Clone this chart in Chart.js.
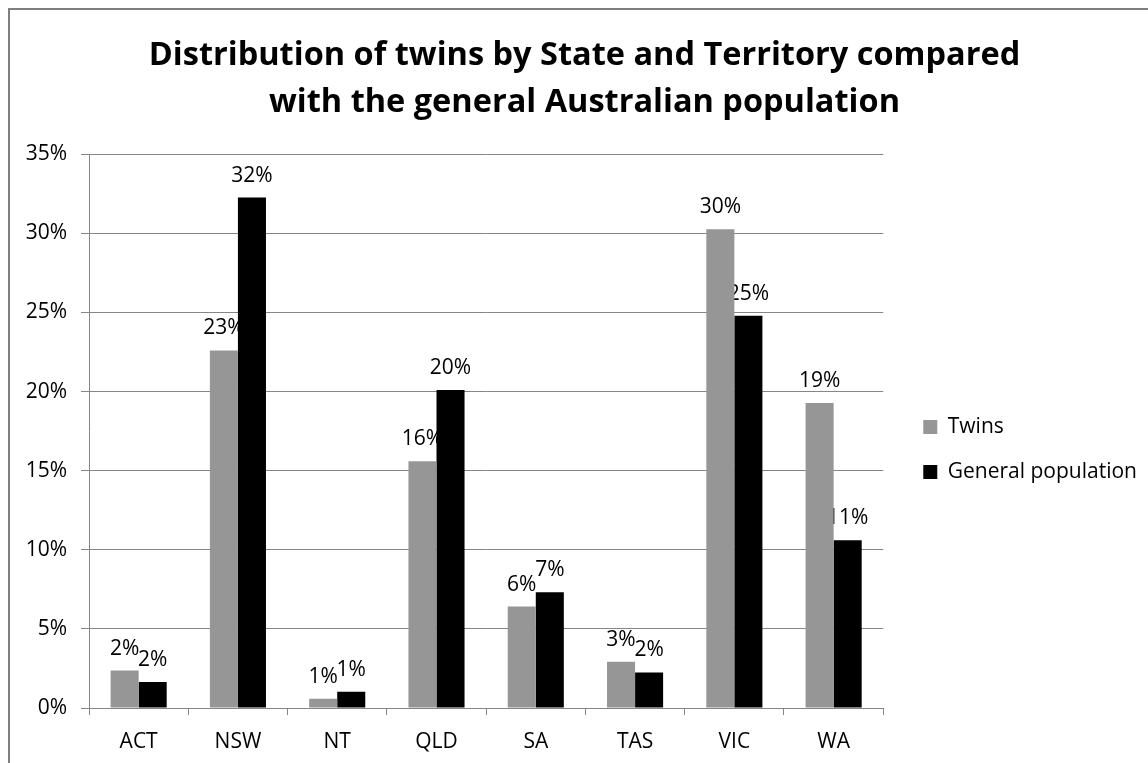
<!DOCTYPE html>
<html>
<head>
<meta charset="utf-8">
<script src="https://cdn.jsdelivr.net/npm/chart.js@4/dist/chart.umd.min.js"></script>
<style>
  html, body { margin: 0; padding: 0; background: #fff; overflow: hidden; }
  #wrap { position: relative; width: 1148px; height: 763px; }
  #frame { position: absolute; left: 8px; top: 8px; width: 1200px; height: 800px; border: 2px solid #7f7f7f; box-sizing: border-box; pointer-events: none; }
  canvas { position: absolute; left: 0; top: 0; }
</style>
</head>
<body>
<div id="wrap">
  <canvas id="chart" width="1148" height="763"></canvas>
  <div id="frame"></div>
</div>
<script>
const states = ["ACT", "NSW", "NT", "QLD", "SA", "TAS", "VIC", "WA"]
const twins = [2.37, 22.6, 0.58, 15.6, 6.41, 2.93, 30.26, 19.27]
const generalPop = [1.65, 32.26, 1.02, 20.1, 7.31, 2.25, 24.8, 10.6]
const yTicks = [0, 5, 10, 15, 20, 25, 30, 35]

const titleLines = [
  "Distribution of twins by State and Territory compared",
  "with the general Australian population",
]

const FONT = "'Open Sans', sans-serif"
Chart.defaults.font.family = FONT
Chart.defaults.font.size = 21
Chart.defaults.color = "#000"

// value labels, drawn right after each series so the next series can cover them
const barLabels = {
  id: "barLabels",
  afterDatasetDraw(chart, args) {
    const ctx = chart.ctx
    const values = chart.data.datasets[args.index].data
    ctx.save()
    ctx.font = "21px " + FONT
    ctx.fillStyle = "#000"
    ctx.textAlign = "center"
    ctx.textBaseline = "alphabetic"
    args.meta.data.forEach((bar, i) => {
      ctx.fillText(Math.round(values[i]) + "%", bar.x, bar.y - 16)
    })
    ctx.restore()
  },
}

// nudge title and legend towards where Excel put them
const blockNudge = {
  id: "blockNudge",
  afterLayout(chart) {
    const t = chart.titleBlock
    t.left += 19
    t.right += 19
    const lg = chart.legend
    lg.left += 16
    lg.right += 16
    lg.top += 54
    lg.bottom += 54
  },
}

new Chart(document.getElementById("chart"), {
  type: "bar",
  data: {
    labels: states,
    datasets: [
      {
        label: "Twins",
        data: twins,
        backgroundColor: "#969696",
        categoryPercentage: 0.565,
        barPercentage: 1.0,
      },
      {
        label: "General population",
        data: generalPop,
        backgroundColor: "#000000",
        categoryPercentage: 0.565,
        barPercentage: 1.0,
      },
    ],
  },
  options: {
    responsive: false,
    animation: false,
    layout: { padding: { left: 0, right: 17, top: 32, bottom: 4 } },
    plugins: {
      title: {
        display: true,
        text: titleLines,
        font: { family: FONT, size: 32.5, weight: "bold", lineHeight: 1.45 },
        color: "#000",
        padding: { top: 0, bottom: 28 },
      },
      legend: {
        position: "right",
        labels: {
          boxWidth: 14,
          boxHeight: 14,
          padding: 24,
          font: { size: 21 },
        },
      },
      tooltip: { enabled: false },
    },
    scales: {
      x: {
        grid: {
          offset: true,
          drawOnChartArea: false,
          tickLength: 7,
          color: "#868686",
        },
        border: { color: "#868686" },
        ticks: { padding: 14 },
        afterFit: (axis) => { axis.height = 51 },
      },
      y: {
        min: 0,
        max: 35,
        afterBuildTicks: (axis) => { axis.ticks = yTicks.map((v) => ({ value: v })) },
        grid: { color: "#868686", tickLength: 8 },
        border: { color: "#868686" },
        ticks: {
          padding: 14,
          callback: (v) => v + "%",
        },
        afterFit: (axis) => { axis.width = 89 },
      },
    },
  },
  plugins: [barLabels, blockNudge],
})
</script>
</body>
</html>
